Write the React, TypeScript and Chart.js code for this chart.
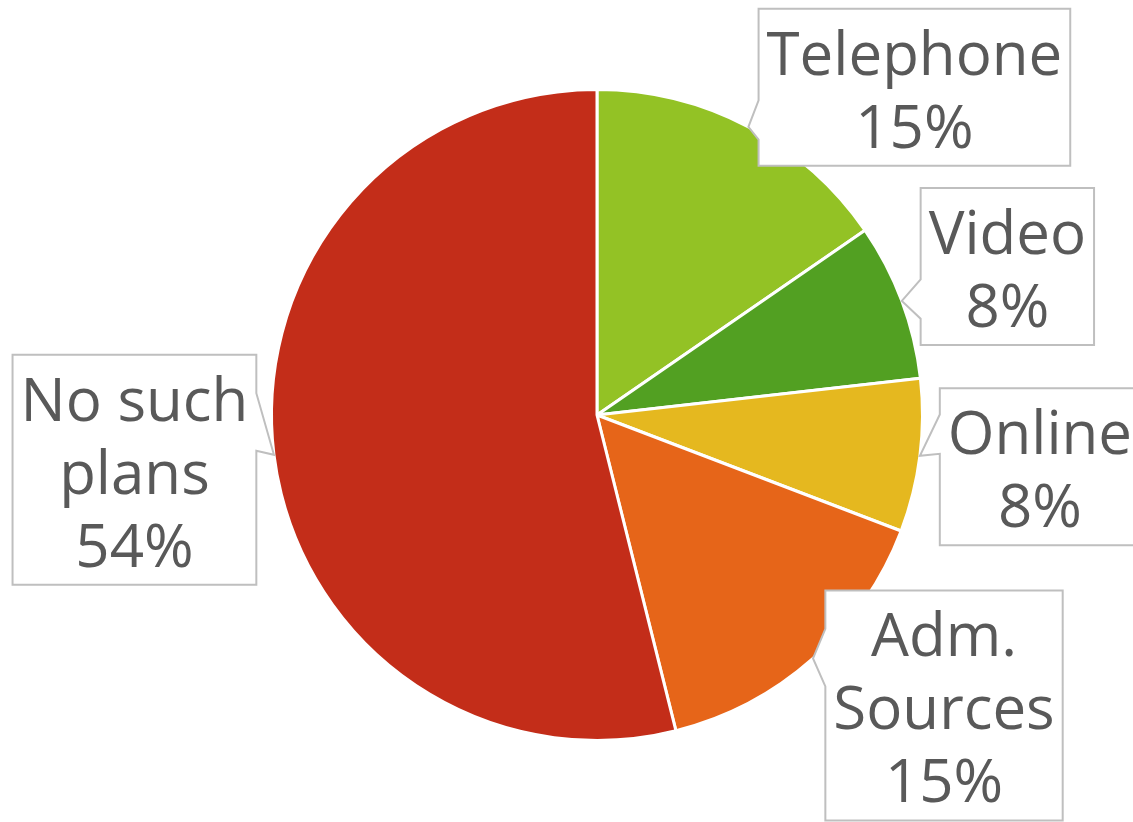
import React, { useEffect, useRef } from "react";
import { Chart, registerables } from "chart.js";

Chart.register(...registerables);

const categories = ["Telephone", "Video", "Online", "Adm. Sources", "No such plans"];
const shares = [15.4, 7.8, 7.6, 15.3, 53.9];
const labelLines = [["Telephone"], ["Video"], ["Online"], ["Adm.", "Sources"], ["No such", "plans"]];
const sliceColors = ["#93C225", "#52A022", "#E5B81F", "#E66519", "#C32D19"];

// callout box centre offset from the slice's outer-edge mid point (layout only)
const calloutOffsets: [number, number][] = [
  [166, -39.5],
  [105.5, -34.5],
  [120, 11],
  [131, 47],
  [-139.5, 15],
];

const FONT = '60px "Open Sans"';
const LINE_H = 73;
const PAD_X = 8;
const PAD_Y = 5.5;
const BASE_OFF = 66;

const calloutPlugin = {
  id: "callouts",
  afterDatasetsDraw(chart: any) {
    const ctx = chart.ctx as CanvasRenderingContext2D;
    const meta = chart.getDatasetMeta(0);
    const data = chart.data.datasets[0].data as number[];
    const total = data.reduce((a, b) => a + b, 0);
    ctx.save();
    ctx.font = FONT;
    meta.data.forEach((arc: any, i: number) => {
      const p = arc.getProps(["x", "y", "startAngle", "endAngle", "outerRadius"], true);
      const mid = (p.startAngle + p.endAngle) / 2;
      const tx = p.x + Math.cos(mid) * p.outerRadius;
      const ty = p.y + Math.sin(mid) * p.outerRadius;
      const lines = [...labelLines[i], Math.round((data[i] / total) * 100) + "%"];
      const tw = Math.max(...lines.map((l) => ctx.measureText(l).width));
      const w = tw + PAD_X * 2;
      const h = lines.length * LINE_H + PAD_Y * 2;
      const cx = tx + calloutOffsets[i][0];
      const cy = ty + calloutOffsets[i][1];
      const left = cx - w / 2;
      const top = cy - h / 2;
      const right = left + w;
      const bottom = top + h;
      const upper = ty < top + h / 2;
      const f1 = upper ? 0.167 : 0.583;
      const f2 = upper ? 0.417 : 0.833;
      ctx.beginPath();
      ctx.moveTo(left, top);
      ctx.lineTo(right, top);
      if (tx > right) {
        ctx.lineTo(right, top + f1 * h);
        ctx.lineTo(tx, ty);
        ctx.lineTo(right, top + f2 * h);
      }
      ctx.lineTo(right, bottom);
      ctx.lineTo(left, bottom);
      if (tx < left) {
        ctx.lineTo(left, top + f2 * h);
        ctx.lineTo(tx, ty);
        ctx.lineTo(left, top + f1 * h);
      }
      ctx.closePath();
      ctx.fillStyle = "#FFFFFF";
      ctx.fill();
      ctx.lineWidth = 2;
      ctx.strokeStyle = "#BFBFBF";
      ctx.stroke();
      ctx.fillStyle = "#595959";
      ctx.textAlign = "center";
      ctx.textBaseline = "alphabetic";
      lines.forEach((l, j) => {
        ctx.fillText(l, cx, top + BASE_OFF + j * LINE_H);
      });
    });
    ctx.restore();
  },
};

export default function App() {
  const ref = useRef<HTMLCanvasElement>(null);
  useEffect(() => {
    if (!ref.current) return;
    const chart = new Chart(ref.current, {
      type: "pie",
      data: {
        labels: categories,
        datasets: [
          {
            data: shares,
            backgroundColor: sliceColors,
            borderColor: "#FFFFFF",
            borderWidth: 3,
          },
        ],
      },
      options: {
        responsive: false,
        animation: false,
        devicePixelRatio: 1,
        layout: { padding: { top: 88, bottom: 80, left: 100, right: 39 } },
        plugins: {
          legend: { display: false },
          tooltip: { enabled: false },
        },
      },
      plugins: [calloutPlugin],
    });
    return () => chart.destroy();
  }, []);
  return (
    <div style={{ position: "fixed", left: 0, top: 0, width: 1133, height: 822, background: "#fff" }}>
      <canvas ref={ref} width={1133} height={822} style={{ width: 1133, height: 822 }} />
    </div>
  );
}
